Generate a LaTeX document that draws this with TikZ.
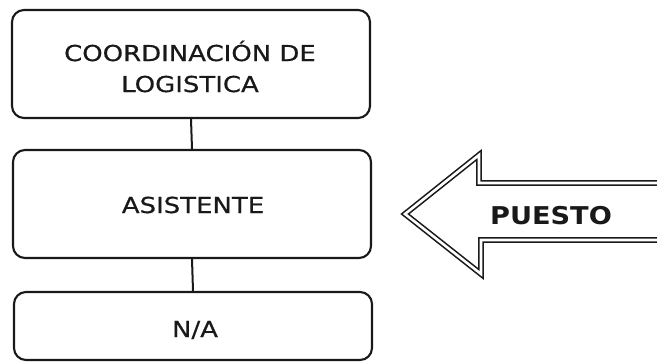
\documentclass[tikz,border=0pt]{standalone}
\usepackage{fontspec}
\setmainfont{DejaVu Sans}[FakeStretch=1.18, FakeBold=0.6]
\newfontfamily\puestofont{DejaVu Sans Bold}[FakeStretch=1.11]
\begin{document}
\begin{tikzpicture}[x=1pt,y=-1pt,
  box/.style={draw=black!90, line width=2.1pt, rounded corners=12pt, minimum width=358pt, align=center, font=\fontsize{22}{31}\selectfont, inner sep=0pt},
  boxtext/.style={align=center, inner sep=0pt, font=\fontsize{22}{31}\selectfont, text=black!90},
  conn/.style={draw=black!90, line width=2pt},
  bigarrow/.style={draw=black!90, line width=1.6pt, double=white, double distance=2.6pt, line join=miter}]
\useasboundingbox (0,0) rectangle (657,364);
\clip (0,0) rectangle (657,364);
\node[box, minimum height=108pt] (coord) at (191,64) {};
\node[boxtext] (coordtxt) at (190,66.5) {COORDINACIÓN DE\\LOGISTICA};
\node[box, minimum height=108pt] (asis) at (192,204) {};
\node[boxtext] (asistxt) at (193,205) {ASISTENTE};
\node[box, minimum height=68pt] (na) at (193,326) {};
\node[boxtext] (natxt) at (195,330) {N/A};
\draw[conn] (coord.south) -- (asis.north);
\draw[conn] (asis.south) -- (na.north);
\coordinate (tip) at (405,214);
\draw[bigarrow] (680,183) -- (479,183) -- (479,155) -- (tip) -- (481,274) -- (481,240) -- (680,240);
\node[font=\fontsize{24.5}{28}\puestofont, text=black!90] (puesto) at (551,216) {PUESTO};
\end{tikzpicture}
\end{document}
